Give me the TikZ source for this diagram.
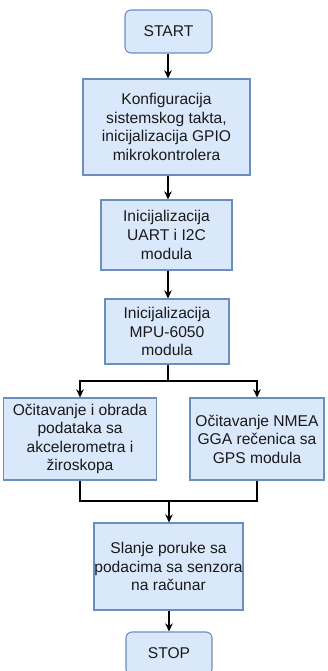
\documentclass[tikz,border=0pt]{standalone}
\usepackage{fontspec}
\setmainfont{Liberation Sans}
\usetikzlibrary{arrows.meta,calc}
\definecolor{boxfill}{HTML}{DAE8FC}
\definecolor{boxdraw}{HTML}{6C8EBF}
\definecolor{txt}{HTML}{1A1A1A}
\tikzset{
  procbox/.style={draw=boxdraw, fill=boxfill, line width=1.1pt, align=center, text=txt,
    font=\fontsize{15.6}{18.6}\selectfont, inner sep=0pt},
  termbox/.style={procbox, rounded corners=6pt},
  flow/.style={line width=1.5pt, -{Stealth[length=8pt,width=7.5pt,inset=2.5pt]}},
  plain/.style={line width=1.5pt}
}
\begin{document}
\begin{tikzpicture}[x=1pt,y=-1pt]
\useasboundingbox (0,0) rectangle (328,671);
\node[termbox, minimum width=87pt, minimum height=43pt] (start) at (168.5,31.5) {START};
\node[procbox, minimum width=167pt, minimum height=96pt] (b1) at (166.5,127) {Konfiguracija\\sistemskog takta,\\inicijalizacija GPIO\\mikrokontrolera};
\node[procbox, minimum width=131pt, minimum height=70pt] (b2) at (166.5,235) {Inicijalizacija\\UART i I2C\\modula};
\node[procbox, minimum width=124pt, minimum height=65pt] (b3) at (167,331.5) {Inicijalizacija\\MPU-6050\\modula};
\node[procbox, minimum width=153pt, minimum height=82pt] (left) at (80,439) {Očitavanje i obrada\\podataka sa\\akcelerometra i\\žiroskopa};
\node[procbox, minimum width=134pt, minimum height=82pt] (right) at (257,439) {Očitavanje NMEA\\GGA rečenica sa\\GPS modula};
\node[procbox, minimum width=149pt, minimum height=87pt] (b4) at (168.5,566.5) {Slanje poruke sa\\podacima sa senzora\\na računar};
\node[termbox, minimum width=86pt, minimum height=43pt] (stop) at (169,653.5) {STOP};

\coordinate (split) at (168,381);
\coordinate (merge) at (169,501);

\draw[flow] (start.south -| 168,0) -- (b1.north -| 168,0);
\draw[flow] (b1.south -| 168,0) -- (b2.north -| 168,0);
\draw[flow] (b2.south -| 168,0) -- (b3.north -| 168,0);
\draw[plain] (b3.south -| split) -- (split);
\draw[flow] (split) -| (left.north);
\draw[flow] (split) -| (right.north);
\draw[plain] (left.south) |- (merge);
\draw[plain] (right.south) |- (merge);
\draw[flow] (merge) -- (b4.north -| merge);
\draw[flow] (b4.south -| 169,0) -- (stop.north -| 169,0);
\end{tikzpicture}
\end{document}
